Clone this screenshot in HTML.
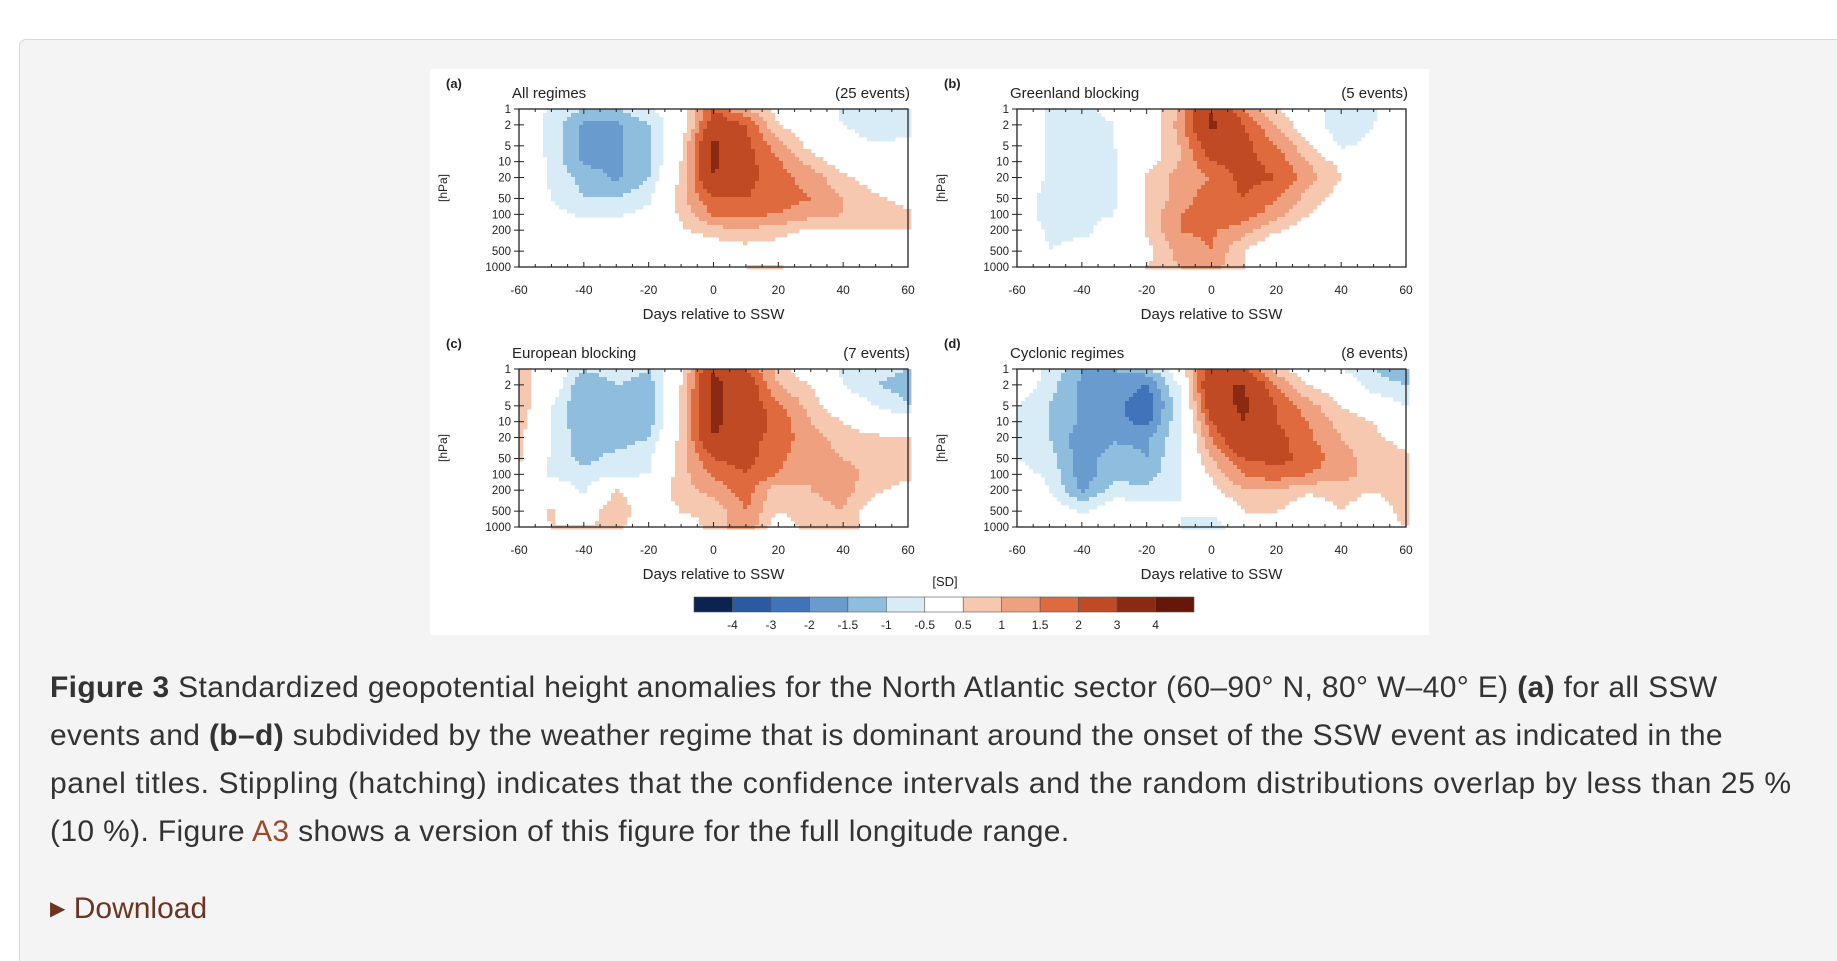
<!DOCTYPE html>
<html style="width:1837px;height:961px;overflow:hidden"><head><meta charset="utf-8">
<style>
body{margin:0;width:1837px;height:961px;overflow:hidden;background:#fff;font-family:"Liberation Sans",sans-serif;position:relative}
#card{position:absolute;left:19px;top:39px;width:1830px;height:940px;background:#f4f4f4;border:1px solid #d8d8d8;border-bottom:none;border-radius:7px 0 0 0}
#fig{position:absolute;left:430px;top:69px;width:999px;height:566px;background:#fff}
#chart{position:absolute;left:0;top:0}
.cap{position:absolute;left:50px;font-size:30px;color:#333;white-space:nowrap;letter-spacing:0.35px}
.cap b{font-weight:bold}
a{color:#9c4a2c;text-decoration:none}
#dl{position:absolute;left:50px;top:892px;font-size:30px;color:#6b3522}
</style></head><body>
<div id="card"></div>
<div id="fig"></div>
<svg id="chart" width="1837" height="961"></svg>
<div class="cap" style="top:671px"><b>Figure 3</b> Standardized geopotential height anomalies for the North Atlantic sector (60–90° N, 80° W–40° E) <b>(a)</b> for all SSW</div>
<div class="cap" style="top:719px">events and <b>(b–d)</b> subdivided by the weather regime that is dominant around the onset of the SSW event as indicated in the</div>
<div class="cap" style="top:767px;letter-spacing:0.6px">panel titles. Stippling (hatching) indicates that the confidence intervals and the random distributions overlap by less than 25 %</div>
<div class="cap" style="top:815px">(10 %). Figure <a href="#">A3</a> shows a version of this figure for the full longitude range.</div>
<div id="dl"><span style="font-size:20px;vertical-align:3px">&#9654;</span> Download</div>
<script>
const days=[-60,-50,-40,-30,-20,-10,0,10,20,30,40,50,60];
const levels=[1,2,5,10,20,50,100,200,500,1000];
const xTicks=[-60,-40,-20,0,20,40,60];
const bounds=[-4,-3,-2,-1.5,-1,-0.5,0.5,1,1.5,2,3,4];
const boundLabels=["-4","-3","-2","-1.5","-1","-0.5","0.5","1","1.5","2","3","4"];
const colors=["#0b2350","#2a5a9f","#3f74bb","#6a9bcf","#8fbddd","#d8ecf7","#ffffff","#f6c8b0","#efa07e","#df6a3e","#c04a24","#8a2a12","#651808"];
const titles=["All regimes","Greenland blocking","European blocking","Cyclonic regimes"];
const events=["(25 events)","(5 events)","(7 events)","(8 events)"];
const letters=["(a)","(b)","(c)","(d)"];
const fieldA=[
[0,-0.6,-1,-1,-0.6,0,2,1,0.3,0,-0.6,-1,-0.8],
[0,-0.7,-1.6,-1.6,-1,0,2.5,2,0.5,0,-0.5,-1,-0.7],
[0,-0.7,-1.6,-1.6,-1.2,0.5,3.2,2.2,1.2,0.3,0,-0.4,-0.3],
[0,-0.6,-1.6,-1.6,-1.2,0.5,3.2,2.2,1.6,0.8,0.2,0,0],
[0,-0.6,-1.2,-1.6,-1,0.6,3,2.2,1.7,1.3,0.6,0.2,0],
[0,-0.5,-1,-1,-0.6,0.8,2,2,1.7,1.5,1,0.6,0.3],
[0,-0.3,-0.6,-0.6,-0.3,0.6,1.6,1.6,1.5,1.2,1,0.8,0.6],
[0,0,0,0,0,0.4,0.8,1,0.7,0.4,0.5,0.5,0.5],
[0,0,0,0,0.5,0,0,0.2,0.2,0,0,0,0.2],
[0,0,0,0,0.3,0,0,0.5,0.6,0,0.3,0,0]];
const fieldB=[
[0,-0.6,-0.6,-0.3,0,1,3,1.5,0.5,0,-1,-0.6,0],
[0,-0.6,-0.8,-0.5,0,1.2,3.2,2,1,0,-1,-0.5,0],
[0,-0.6,-1,-0.5,0,1,2.5,2.2,1.5,0.6,-0.6,-0.3,0],
[0,-0.6,-0.7,-0.6,0.2,1,2,2.2,1.8,1,0.3,0,0],
[0,-0.6,-0.6,-0.6,0.6,1.2,1.5,2.2,2,1.2,0.5,0,0],
[0,-0.8,-0.6,-0.6,0.5,1.2,1.8,2,1.5,0.8,0.2,0,0],
[0,-0.8,-0.6,-0.5,0.6,1.5,2,1.8,1.2,0.5,0,-0.5,-0.5],
[0,-0.6,-0.6,-0.3,0.6,1.5,1.6,1.2,0.6,0.1,-0.3,-0.5,-0.3],
[0,-0.5,-0.3,-0.5,0.3,1.2,1.5,0.5,-0.3,-0.5,-0.3,0,0],
[0,0,0,0,0.5,1,1.2,0.5,0,0,0,0,0]];
const fieldC=[
[0.8,0,-1,-0.6,-1,0.3,3,2,0.8,0,-0.6,-0.8,-1],
[0.8,0,-1.5,-1,-1.3,0.5,3.2,2.5,1,0.5,-0.5,-1,-1.2],
[1,-0.5,-1.5,-1.2,-1.5,0.6,3.2,2.5,1.6,0.8,0,-0.5,-1],
[0.8,-0.5,-1.5,-1.3,-1.3,0.6,3.2,2.5,1.8,1,0.5,0,0],
[0.6,-0.5,-1.3,-1.3,-1,0.7,3,2.2,1.8,1.2,0.8,0.6,0.5],
[0.6,-0.6,-1.2,-0.8,-0.6,0.8,2,2.2,1.6,1.2,1,0.8,0.7],
[0,-0.6,-0.8,-0.6,-0.5,0.8,1.6,2,1.5,1,1.2,0.8,0.6],
[0,0,-0.6,0.5,0,0.8,1.2,1.8,0.6,1,1.2,0.6,0.3],
[0,0.6,0,1,0,0.5,0.6,1.5,0.5,0.8,1,0,0.5],
[0,0.5,0.5,0.6,0,0.3,0.6,1.5,0,0.8,1,0,0.5]];
const fieldD=[
[0,-0.6,-1.5,-1.5,-1.2,0,2.5,2,0.7,0,-0.5,-1,-1.3],
[0,-0.8,-1.6,-1.6,-2,-0.5,3,3,1.5,0.5,0,-0.8,-1],
[-0.5,-1,-1.6,-1.8,-2.5,-0.6,2.5,3.2,2,1.2,0.5,0,-0.5],
[-0.5,-1,-1.6,-1.8,-2.2,-0.6,2,3,2,1.5,0.8,0.5,0],
[-0.5,-1,-1.8,-1.6,-1.6,-0.6,1.5,3,2.2,1.6,1,0.6,0.3],
[-0.5,-0.8,-1.8,-1.2,-1.5,-0.5,1,2,2.2,1.8,1.2,0.8,0.6],
[-0.3,-0.6,-1.8,-1.2,-1.3,-0.5,0.6,1.5,1.8,1.5,1.2,0.8,1],
[0,-0.5,-1.6,-0.8,-0.8,-0.5,0.3,1,1,0.6,0.8,0.5,1],
[0,0,-0.6,0,-0.3,-0.5,-0.3,0.5,0.5,0,0.5,0,0.8],
[0,0,0,0,0,-0.5,-1,0.3,0,0,0.3,0,0.5]];
const fields=[fieldA,fieldB,fieldC,fieldD];

const NS="http://www.w3.org/2000/svg";
const svg=document.getElementById('chart');
function mk(tag,attrs,parent,text){const e=document.createElementNS(NS,tag);for(const k in attrs)e.setAttribute(k,attrs[k]);if(text!==undefined)e.textContent=text;(parent||svg).appendChild(e);return e;}
function colorFor(v){let i=0;while(i<bounds.length&&v>=bounds[i])i++;if(v>-0.5&&v<0.5)return colors[6];return colors[i];}
const panels=[{x0:519,y0:109},{x0:1017,y0:109},{x0:519,y0:369},{x0:1017,y0:369}];
const PW=389,PH=158;
function sx(p,d){return p.x0+(d+60)/120*PW;}
function sy(p,pr){return p.y0+Math.log10(pr)/3*PH;}
function sample(f,d,lp){
  let ci=(d+60)/10;ci=Math.max(0,Math.min(11.999,ci));const c0=Math.floor(ci),tc=ci-c0;
  const ls=levels.map(l=>Math.log10(l));let r0=0;while(r0<ls.length-2&&lp>ls[r0+1])r0++;
  let tr=(lp-ls[r0])/(ls[r0+1]-ls[r0]);tr=Math.max(0,Math.min(1,tr));
  const a=f[r0][c0]*(1-tc)+f[r0][c0+1]*tc,b=f[r0+1][c0]*(1-tc)+f[r0+1][c0+1]*tc;return a*(1-tr)+b*tr;}
panels.forEach((p,k)=>{
  const g=mk('g',{});
  
  
  const f=fields[k];const step=4;
  for(let y=0;y<PH;y+=step){for(let x=0;x<PW;x+=step){
    const d=(x+step/2)/PW*120-60;const lp=(y+step/2)/PH*3;
    const v=sample(f,d,lp);const c=colorFor(v);if(c==='#ffffff')continue;
    const r=mk('rect',{x:p.x0+x,y:p.y0+y,width:step+0.4,height:step+0.4,fill:c},g);
    
    
  }}
  mk('rect',{x:p.x0,y:p.y0,width:PW,height:PH,fill:'none',stroke:'#222','stroke-width':1.3},g);
  for(let d=-60;d<=60;d+=5){const X=sx(p,d);const len=d%20===0?5:3;
    mk('line',{x1:X,y1:p.y0+PH,x2:X,y2:p.y0+PH-len,stroke:'#222'},g);
    mk('line',{x1:X,y1:p.y0,x2:X,y2:p.y0+len,stroke:'#222'},g);}
  xTicks.forEach(d=>{const t=mk('text',{x:sx(p,d),y:p.y0+PH+27,'font-size':12,'text-anchor':'middle',fill:'#222'},g,String(d));
    });
  levels.forEach(l=>{const Y=sy(p,l);mk('line',{x1:p.x0,y1:Y,x2:p.x0+5,y2:Y,stroke:'#222'},g);
    mk('line',{x1:p.x0-5,y1:Y,x2:p.x0,y2:Y,stroke:'#222'},g);
    const t=mk('text',{x:p.x0-8,y:Y+4,'font-size':11.5,'text-anchor':'end',fill:'#222'},g,String(l));
    });
  const xt=mk('text',{x:p.x0+PW/2,y:p.y0+PH+52,'font-size':15,'text-anchor':'middle',fill:'#222'},g,'Days relative to SSW');
  
  const yt=mk('text',{x:0,y:0,'font-size':12,'text-anchor':'middle',fill:'#222',transform:`translate(${p.x0-72},${p.y0+PH/2}) rotate(-90)`},g,'[hPa]');
  
  const lt=mk('text',{x:p.x0-73,y:p.y0-21,'font-size':13,'font-weight':'bold',fill:'#222'},g,letters[k]);
  
  const tt=mk('text',{x:p.x0-7,y:p.y0-11,'font-size':15,fill:'#222'},g,titles[k]);
  
  const et=mk('text',{x:p.x0+PW+2,y:p.y0-11,'font-size':15,'text-anchor':'end',fill:'#222'},g,events[k]);
  
});
const cb=mk('g',{});


const cbx=694,cby=597,cbw=500,cbh=15,bw=cbw/colors.length;
colors.forEach((c,i)=>{const r=mk('rect',{x:cbx+i*bw,y:cby,width:bw,height:cbh,fill:c,stroke:'#555','stroke-width':0.6},cb);
  });
boundLabels.forEach((s,i)=>{const t=mk('text',{x:cbx+(i+1)*bw,y:cby+32,'font-size':12,'text-anchor':'middle',fill:'#222'},cb,s);
  });
const sd=mk('text',{x:945,y:586,'font-size':13,'text-anchor':'middle',fill:'#222'},cb,'[SD]');

</script>
</body></html>
